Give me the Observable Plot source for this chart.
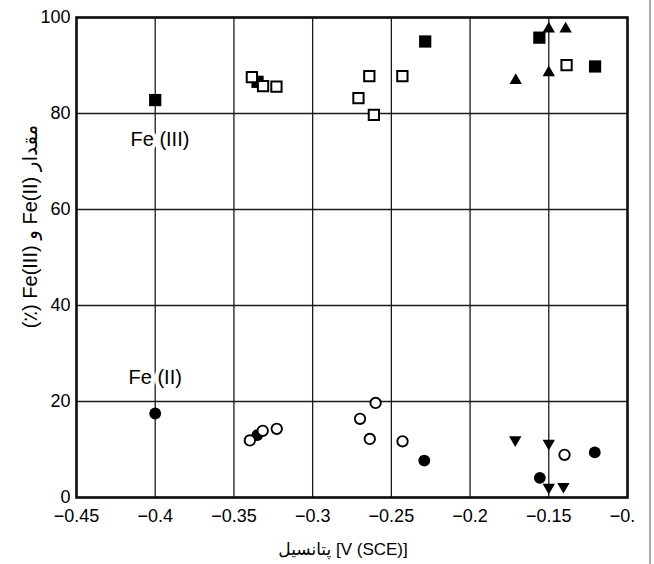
<!DOCTYPE html>
<html>
<head>
<meta charset="utf-8">
<script src="https://cdn.jsdelivr.net/npm/d3@7"></script>
<script src="https://cdn.jsdelivr.net/npm/@observablehq/plot@0.6"></script>
<style>
  body { margin: 0; background: white; }
  #wrap { position: relative; width: 654px; height: 564px; overflow: hidden; background: white; }
  #chart { position: absolute; left: 0; top: 0; width: 635px; height: 564px; overflow: hidden; }
  #chart svg { max-width: none !important; }
  #edge { position: absolute; left: 649px; top: 0; width: 2px; height: 564px; background: #a8a8a8; }
</style>
</head>
<body>
<div id="wrap"><div id="chart"></div><div id="edge"></div></div>
<script>
// Tick values
const xTicks = [-0.45, -0.4, -0.35, -0.3, -0.25, -0.2, -0.15, -0.1];
const yTicks = [0, 20, 40, 60, 80, 100];

// Fe(III) – filled squares
const fe3FilledX = [-0.4, -0.335, -0.2285, -0.156, -0.1206];
const fe3FilledY = [82.8, 86.6, 95.0, 95.8, 89.8];
// Fe(III) – open squares
const fe3OpenX = [-0.3386, -0.3315, -0.323, -0.264, -0.2709, -0.2611, -0.243, -0.1387];
const fe3OpenY = [87.6, 85.7, 85.6, 87.8, 83.2, 79.7, 87.8, 90.1];
// Fe(III) – filled triangles
const fe3TriX = [-0.171, -0.15, -0.15, -0.1393];
const fe3TriY = [86.9, 88.5, 97.6, 97.6];

// Fe(II) – filled circles
const fe2FilledX = [-0.4, -0.3351, -0.2291, -0.1557, -0.1208];
const fe2FilledY = [17.5, 13.0, 7.7, 4.1, 9.4];
// Fe(II) – open circles
const fe2OpenX = [-0.3399, -0.3317, -0.3228, -0.2699, -0.26, -0.2637, -0.2429, -0.14];
const fe2OpenY = [11.9, 13.9, 14.3, 16.4, 19.7, 12.2, 11.7, 8.9];
// Fe(II) – filled inverted triangles
const fe2InvX = [-0.1713, -0.15, -0.15, -0.1407];
const fe2InvY = [12.0, 11.3, 2.1, 2.3];

// Annotations
const labelText = ["Fe (III)", "Fe (II)"];
const labelX = [-0.397, -0.4];
const labelY = [74.5, 24.9];

const xTitle = "پتانسیل [V (SCE)]";
const yTitle = "(٪) Fe(III) و Fe(II) مقدار";

const pts = (xs, ys) => xs.map((x, i) => ({x, y: ys[i]}));
const labels = labelText.map((t, i) => ({text: t, x: labelX[i], y: labelY[i]}));
const fmt = d => (d < 0 ? "\u2212" : "") + String(Math.abs(d));

const chart = Plot.plot({
  width: 654,
  height: 564,
  marginLeft: 76,
  marginRight: 27,
  marginTop: 17,
  marginBottom: 67,
  style: {
    fontFamily: "'Liberation Sans', Arial, 'DejaVu Sans', sans-serif",
    fontSize: "18px",
    color: "black",
    background: "white",
    maxWidth: "none"
  },
  x: {domain: [-0.45, -0.1], ticks: xTicks, tickFormat: fmt, tickSize: 0, tickPadding: 12, label: null},
  y: {domain: [0, 100], ticks: yTicks, tickSize: 0, tickPadding: 6, label: null},
  marks: [
    Plot.ruleX(xTicks, {stroke: "#1a1a1a", strokeWidth: 1.3}),
    Plot.ruleY(yTicks, {stroke: "#1a1a1a", strokeWidth: 1.3}),
    Plot.frame({stroke: "#111", strokeWidth: 2.6}),
    Plot.dot(pts(fe3FilledX, fe3FilledY), {x: "x", y: "y", symbol: "square", fill: "black", r: 6.9}),
    Plot.dot(pts(fe3OpenX, fe3OpenY), {x: "x", y: "y", symbol: "square", fill: "white", stroke: "black", strokeWidth: 2, r: 5.8}),
    Plot.dot(pts(fe3TriX, fe3TriY), {x: "x", y: "y", symbol: "triangle", fill: "black", r: 4.6}),
    Plot.dot(pts(fe2FilledX, fe2FilledY), {x: "x", y: "y", symbol: "circle", fill: "black", r: 5.9}),
    Plot.dot(pts(fe2OpenX, fe2OpenY), {x: "x", y: "y", symbol: "circle", fill: "white", stroke: "black", strokeWidth: 1.9, r: 5.2}),
    Plot.dot(pts(fe2InvX, fe2InvY), {x: "x", y: "y", symbol: "triangle", rotate: 180, fill: "black", r: 4.6}),
    Plot.text(labels, {x: "x", y: "y", text: "text", fontSize: 20, fill: "black", stroke: "white", strokeWidth: 8}),
    Plot.text([xTitle], {frameAnchor: "bottom", lineAnchor: "middle", textAnchor: "middle", dx: -9, dy: 52, fontSize: 17, fill: "black", text: d => d}),
    Plot.text([yTitle], {frameAnchor: "left", lineAnchor: "middle", textAnchor: "middle", dx: -46, dy: -31, rotate: -90, fontSize: 20, fill: "black", text: d => d})
  ]
});
document.getElementById("chart").appendChild(chart);
</script>
</body>
</html>
